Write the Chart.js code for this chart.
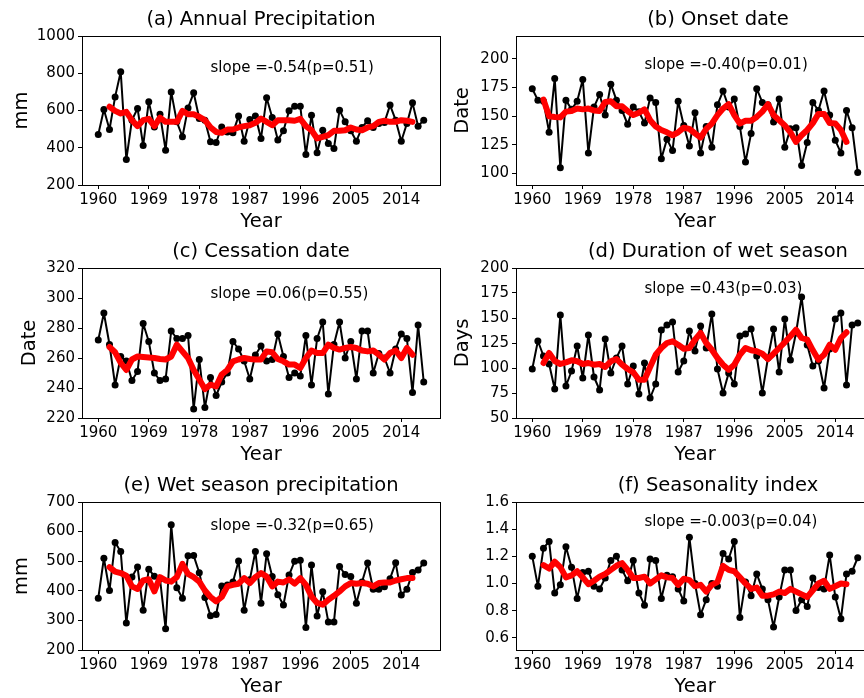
<!DOCTYPE html>
<html>
<head>
<meta charset="utf-8">
<script src="https://cdn.jsdelivr.net/npm/chart.js@4.4.1/dist/chart.umd.min.js"></script>
<style>
  html, body { margin: 0; padding: 0; background: #fff; }
  body { width: 864px; height: 698px; overflow: hidden; position: relative; }
  canvas { position: absolute; }
</style>
</head>
<body>
<script>
// ---------------- DATA ----------------
const years = [1960,1961,1962,1963,1964,1965,1966,1967,1968,1969,
  1970,1971,1972,1973,1974,1975,1976,1977,1978,1979,
  1980,1981,1982,1983,1984,1985,1986,1987,1988,1989,
  1990,1991,1992,1993,1994,1995,1996,1997,1998,1999,
  2000,2001,2002,2003,2004,2005,2006,2007,2008,2009,
  2010,2011,2012,2013,2014,2015,2016,2017,2018];
// red curve runs 1962-2016
const maYears = years.slice(2, 57);

const yearTicks = [1960, 1969, 1978, 1987, 1996, 2005, 2014];

// (a) annual precipitation
const annualPrecip = [471,605,498,673,808,337,548,611,412,647,512,
  580,387,700,539,459,614,695,557,548,432,
  428,512,485,480,570,435,552,570,450,668,
  562,441,491,598,623,623,364,575,373,494,
  423,396,602,539,491,435,509,545,509,530,
  536,629,548,435,530,641,516,548];
const annualPrecipMA = [620,598,584,593,548,516,548,555,516,
  562,539,539,539,598,580,580,566,548,509,
  485,480,498,498,509,516,521,534,557,539,
  521,548,548,548,545,555,516,494,450,459,
  468,491,491,494,509,498,494,509,516,539,
  545,539,539,548,545,539];
const ticksA = [200, 400, 600, 800, 1000];

// (b) onset date
const onset = [174,164,163,136,183,105,164,156,163,182,118,
  158,169,151,178,164,155,143,158,154,144,
  166,162,113,130,120,163,142,124,153,118,
  141,123,160,172,158,165,141,110,135,174,
  162,160,145,165,123,139,140,107,127,162,
  155,172,151,129,118,155,140,101];
const onsetMA = [164.5,150,149.4,149,154,154.6,156.7,156,156.7,
  155,154.6,162.5,163,158.7,158.7,154.6,151,153,156,
  146.5,141,138,136,133.4,136,140,139,135,131.4,
  139,143.6,151,156.7,160.5,151,143.6,146,146,149.4,
  154,160.5,151,146.5,142,136,127.6,133.4,138,144,
  152,152,144,143.6,138,127.6];
const ticksB = [100, 125, 150, 175, 200];

// (c) cessation date
const cessation = [272,290,269,242,261,258,245,251,283,271,250,
  245,246,278,273,273,275,226,259,227,247,
  235,244,250,271,266,258,246,262,268,258,
  259,276,261,247,250,248,275,242,273,284,
  236,269,284,260,271,246,278,278,250,263,
  260,250,266,276,273,237,282,244];
const cessationMA = [267.3,263.8,256.7,252,259,261,260.7,260.4,260,
  259.3,259,261,268.9,264.4,260,252,245.6,239.3,242.2,
  241,249,252,257.8,259,260,259.3,259,259,264.4,
  263.8,259.3,257.8,255.6,255.6,253.3,260,265,263.3,263.3,
  268.9,266.7,265.6,266.7,267.3,266.7,265,264.4,265,262.2,
  259,263.3,265,260,266.7,262.2];
const ticksC = [220, 240, 260, 280, 300, 320];

// (d) duration of wet season
const duration = [99,127,112,104,79,153,82,97,122,90,133,
  91,78,129,95,110,122,84,102,74,105,
  70,84,138,143,146,96,107,137,117,142,
  120,154,99,75,95,84,132,134,139,112,
  75,110,139,96,149,108,135,171,123,102,
  107,80,119,149,155,83,143,145];
const durationMA = [105,115,107,104,105.7,107.7,106.7,104,105,
  103.3,104,101,106.7,109,103.3,99,95.7,88.3,88.3,
  101,113.3,120,125,126.7,123.3,119.3,120,128.3,135,
  125,118.3,110,103.3,98.3,103.3,113.3,120,117.7,116.7,
  114.3,109,114.3,120,125.7,131.7,138.3,130,128.3,117.7,
  108.3,113.3,123.3,118.3,130,135.7];
const ticksD = [50, 75, 100, 125, 150, 175, 200];

// (e) wet season precipitation
const wetPrecip = [375,510,401,563,533,291,447,480,334,473,449,
  440,272,623,410,375,518,519,461,377,316,
  320,416,420,430,501,334,437,533,358,525,
  448,387,352,453,500,503,276,487,315,397,
  295,295,482,455,448,358,430,494,405,405,
  414,441,495,386,405,462,470,494];
const wetPrecipMA = [480,465,460,451,415,406,435,439,398,
  446,435,431,446,491,457,446,431,401,379,
  364,379,415,420,424,443,426,446,460,448,
  415,431,428,439,424,443,420,381,359,353,
  370,383,398,415,426,424,426,424,415,426,
  428,428,435,439,443,443];
const ticksE = [200, 300, 400, 500, 600, 700];

// (f) seasonality index
const seasonality = [1.20,0.98,1.26,1.31,0.93,0.99,1.27,1.12,0.89,1.08,1.09,
  0.98,0.96,1.04,1.17,1.20,1.10,1.02,1.17,0.93,0.84,
  1.18,1.17,0.89,1.06,1.05,0.96,0.87,1.34,1.00,0.77,
  0.88,1.00,0.98,1.22,1.18,1.31,0.75,1.01,0.91,1.07,
  0.96,0.88,0.68,0.90,1.10,1.10,0.80,0.88,0.83,1.04,
  0.97,0.96,1.21,0.90,0.74,1.07,1.09,1.19];
const seasonalityMA = [1.135,1.11,1.16,1.12,1.045,1.06,1.09,1.045,0.995,
  1.02,1.05,1.07,1.10,1.13,1.15,1.10,1.04,1.04,1.05,
  1.00,1.03,1.06,1.045,1.04,0.99,1.035,1.025,0.98,0.99,
  0.94,0.99,1.01,1.13,1.10,1.09,1.045,1.00,0.96,0.97,
  0.91,0.91,0.92,0.94,0.93,0.96,0.94,0.92,0.90,0.95,
  1.00,1.02,0.96,0.98,1.00,0.995];
const ticksF = [0.6, 0.8, 1.0, 1.2, 1.4, 1.6];


// ---------------- LAYOUT ----------------
const cols = [{ l: 82, r: 440, titleX: 0.5 }, { l: 516, r: 874, titleX: 0.564 }];
const rows = [{ t: 36, b: 185 }, { t: 268, b: 418 }, { t: 502, b: 650 }];
const AXIS_W = 82, AXIS_H = 50, TOP = 36, RIGHT = 10;

const panels = [
  { title: '(a) Annual Precipitation', ylabel: 'mm', values: annualPrecip, ma: annualPrecipMA,
    yTicks: ticksA, ymin: 200, ymax: 1000, dec: 0, slope: 'slope =-0.54(p=0.51)', slopeY: 828, col: 0, row: 0, labPad: 10 },
  { title: '(b) Onset date', ylabel: 'Date', values: onset, ma: onsetMA,
    yTicks: ticksB, ymin: 90, ymax: 220, dec: 0, slope: 'slope =-0.40(p=0.01)', slopeY: 194.7, col: 1, row: 0, labPad: 17 },
  { title: '(c) Cessation date', ylabel: 'Date', values: cessation, ma: cessationMA,
    yTicks: ticksC, ymin: 220, ymax: 320, dec: 0, slope: 'slope =0.06(p=0.55)', slopeY: 302.7, col: 0, row: 1, labPad: 18 },
  { title: '(d) Duration of wet season', ylabel: 'Days', values: duration, ma: durationMA,
    yTicks: ticksD, ymin: 50, ymax: 200, dec: 0, slope: 'slope =0.43(p=0.03)', slopeY: 179, col: 1, row: 1, labPad: 17 },
  { title: '(e) Wet season precipitation', ylabel: 'mm', values: wetPrecip, ma: wetPrecipMA,
    yTicks: ticksE, ymin: 200, ymax: 700, dec: 0, slope: 'slope =-0.32(p=0.65)', slopeY: 619, col: 0, row: 2, labPad: 10 },
  { title: '(f) Seasonality index', ylabel: '', values: seasonality, ma: seasonalityMA,
    yTicks: ticksF, ymin: 0.51, ymax: 1.6, dec: 1, slope: 'slope =-0.003(p=0.04)', slopeY: 1.453, col: 1, row: 2, labPad: 17 }
];

Chart.defaults.font.family = '"DejaVu Sans", sans-serif';
Chart.defaults.color = '#000';

// frame, title and slope text
const decor = {
  id: 'decor',
  afterDatasetsDraw(chart, args, opts) {
    const { ctx, chartArea: a, scales } = chart;
    ctx.save();
    ctx.strokeStyle = '#000';
    ctx.lineWidth = 1;
    ctx.strokeRect(Math.round(a.left) + 0.5, Math.round(a.top) + 0.5,
      Math.round(a.right - a.left), Math.round(a.bottom - a.top));
    ctx.fillStyle = '#000';
    ctx.textBaseline = 'middle';
    ctx.textAlign = 'center';
    ctx.font = '19.5px "DejaVu Sans"';
    ctx.fillText(opts.title, a.left + (a.right - a.left) * opts.titleX, a.top - 16);
    ctx.textAlign = 'left';
    ctx.font = '15px "DejaVu Sans"';
    ctx.fillText(opts.slope, scales.x.getPixelForValue(1980), scales.y.getPixelForValue(opts.slopeY));
    ctx.restore();
  }
};

panels.forEach(p => {
  const c = cols[p.col], r = rows[p.row];

  const canvas = document.createElement('canvas');
  canvas.width = c.r - c.l + AXIS_W + RIGHT;
  canvas.height = r.b - r.t + TOP + AXIS_H;
  canvas.style.left = (c.l - AXIS_W) + 'px';
  canvas.style.top = (r.t - TOP) + 'px';
  document.body.appendChild(canvas);

  new Chart(canvas, {
    type: 'line',
    data: {
      datasets: [
        {
          data: maYears.map((y, i) => ({ x: y, y: p.ma[i] })),
          borderColor: '#ff0000',
          borderWidth: 6,
          pointRadius: 0,
          tension: 0,
          borderJoinStyle: 'round',
          borderCapStyle: 'round'
        },
        {
          data: years.map((y, i) => ({ x: y, y: p.values[i] })),
          borderColor: '#000',
          borderWidth: 2,
          borderJoinStyle: 'round',
          pointRadius: 3.5,
          pointBackgroundColor: '#000',
          pointBorderWidth: 0,
          tension: 0
        }
      ]
    },
    options: {
      responsive: false,
      animation: false,
      events: [],
      layout: { padding: { left: 0, top: TOP, right: RIGHT, bottom: 0 } },
      plugins: {
        legend: { display: false },
        tooltip: { enabled: false },
        decor: { title: p.title, titleX: c.titleX, slope: p.slope, slopeY: p.slopeY }
      },
      scales: {
        x: {
          type: 'linear',
          min: 1957.1,
          max: 2020.9,
          bounds: 'data',
          afterBuildTicks: axis => { axis.ticks = yearTicks.map(v => ({ value: v })); },
          afterFit: axis => { axis.height = AXIS_H; },
          ticks: { font: { size: 15 }, padding: 2, autoSkip: false, maxRotation: 0, callback: v => String(v) },
          grid: { drawOnChartArea: false, color: '#000', tickLength: 4 },
          border: { color: '#000', width: 1 },
          title: { display: true, text: 'Year', font: { size: 19.5 }, padding: { top: 0, bottom: 1 } }
        },
        y: {
          min: p.ymin,
          max: p.ymax,
          bounds: 'data',
          afterBuildTicks: axis => { axis.ticks = p.yTicks.map(v => ({ value: v })); },
          afterFit: axis => { axis.width = AXIS_W; },
          ticks: { font: { size: 15 }, padding: 3, callback: v => v.toFixed(p.dec) },
          grid: { drawOnChartArea: false, color: '#000', tickLength: 4 },
          border: { color: '#000', width: 1 },
          title: { display: p.ylabel !== '', text: p.ylabel, font: { size: 19.5 }, padding: { top: p.labPad, bottom: 0 } }
        }
      }
    },
    plugins: [decor]
  });
});
</script>
</body>
</html>
